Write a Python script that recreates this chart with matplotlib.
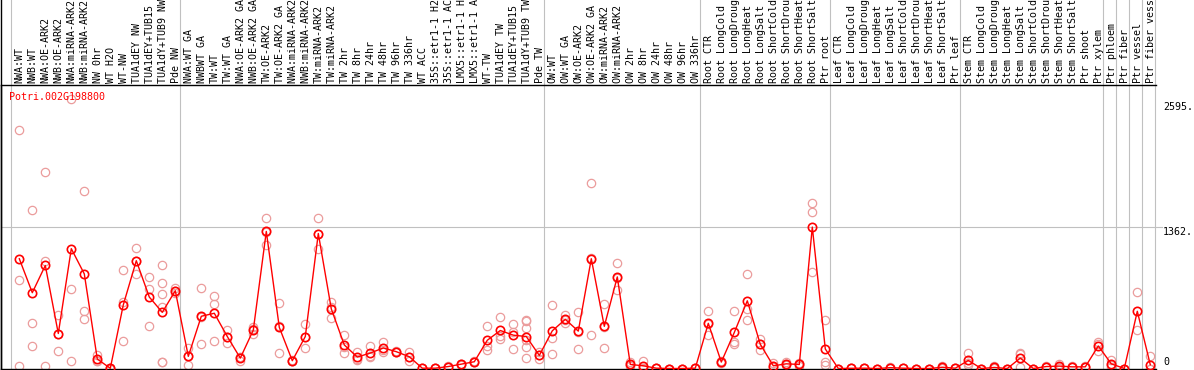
import numpy as np
import matplotlib
matplotlib.use('Agg')
import matplotlib.pyplot as plt
from matplotlib.lines import Line2D
import matplotlib.transforms as mtransforms

################################################################################
# data

gene_id = 'Potri.002G198800'

sample_labels = [
    # NW group
    'NWA:WT', 'NWB:WT', 'NWA:OE-ARK2', 'NWB:OE-ARK2', 'NWA:miRNA-ARK2',
    'NWB:miRNA-ARK2', 'NW 0hr', 'WT H2O', 'WT-NW', 'TUA1dEY NW',
    'TUA1dEY+TUB15 NW', 'TUA1dY+TUB9 NW', 'Pde NW',
    # TW group
    'NWA:WT GA', 'NWBWT GA', 'TW:WT', 'TW:WT GA', 'NWA:OE-ARK2 GA',
    'NWB:OE-ARK2 GA', 'TW:OE-ARK2', 'TW:OE-ARK2 GA', 'NWA:miRNA-ARK2 GA',
    'NWB:miRNA-ARK2 GA', 'TW:miRNA-ARK2', 'TW:miRNA-ARK2 GA', 'TW 2hr',
    'TW 8hr', 'TW 24hr', 'TW 48hr', 'TW 96hr', 'TW 336hr', 'WT ACC',
    '35S::etr1-1 H2O', '35S::etr1-1 ACC', 'LMX5::etr1-1 H2O',
    'LMX5::etr1-1 ACC', 'WT-TW', 'TUA1dEY TW', 'TUA1dEY+TUB15 TW',
    'TUA1dY+TUB9 TW', 'Pde TW',
    # OW group
    'OW:WT', 'OW:WT GA', 'OW:OE-ARK2', 'OW:OE-ARK2 GA', 'OW:miRNA-ARK2',
    'OW:miRNA-ARK2 GA', 'OW 2hr', 'OW 8hr', 'OW 24hr', 'OW 48hr', 'OW 96hr',
    'OW 336hr',
    # root
    'Root CTR', 'Root LongCold', 'Root LongDrought', 'Root LongHeat',
    'Root LongSalt', 'Root ShortCold', 'Root ShortDrought', 'Root ShortHeat',
    'Root ShortSalt', 'Ptr root',
    # leaf
    'Leaf CTR', 'Leaf LongCold', 'Leaf LongDrought', 'Leaf LongHeat',
    'Leaf LongSalt', 'Leaf ShortCold', 'Leaf ShortDrought', 'Leaf ShortHeat',
    'Leaf ShortSalt', 'Ptr leaf',
    # stem
    'Stem CTR', 'Stem LongCold', 'Stem LongDrought', 'Stem LongHeat',
    'Stem LongSalt', 'Stem ShortCold', 'Stem ShortDrought', 'Stem ShortHeat',
    'Stem ShortSalt', 'Ptr shoot', 'Ptr xylem',
    # single tissues
    'Ptr phloem', 'Ptr fiber', 'Ptr vessel', 'Ptr fiber vessel',
]

# last sample index of each group (a separator line follows it)
group_ends = [-1, 12, 40, 52, 62, 72, 83, 84, 85, 86, 87]

mean_expr = [
    1057, 730, 992, 337, 1154, 911, 91, 2, 613, 1038, 688, 541, 749,
    117, 503, 532, 308, 100, 370, 1320, 396, 75, 308, 1300, 574, 227, 110,
    149, 198, 162, 113, 3, 3, 19, 42, 65, 272, 366, 321, 308, 126,
    363, 473, 360, 1057, 406, 882, 39, 26, 3, 0, 0, 3,
    435, 62, 347, 652, 233, 26, 45, 39, 1362, 188,
    0, 2, 3, 0, 8, 3, 0, 0, 12, 3,
    78, 0, 10, 0, 100, 0, 19, 23, 16, 16, 217,
    45, 0, 551, 36,
]

replicates = [
    [2293, 853, 26], [1524, 435, 221], [1894, 1038, 26], [513, 165, 333],
    [2595, 765, 68], [1709, 554, 473], [133, 71, 69], [3, 2, 0],
    [950, 636, 263], [1164, 911, 1039], [882, 765, 406],
    [992, 824, 717, 593, 58, 58], [775, 727, 745],
    [198, 36, 117], [775, 240, 494], [700, 619, 263], [370, 250, 304],
    [110, 75, 115], [396, 337, 377], [1447, 1194, 1319], [629, 153, 406],
    [80, 70, 75], [428, 195, 301], [1447, 1154, 1300], [642, 489, 591],
    [318, 153, 210], [162, 78, 90], [221, 110, 116], [253, 182, 159],
    [170, 155, 160], [156, 71, 112], [5, 2, 2], [3, 2, 4], [19, 15, 23],
    [42, 38, 46], [65, 60, 70], [406, 214, 175], [493, 311, 282],
    [428, 347, 185], [467, 454, 386, 272, 204, 97], [126, 91, 160],
    [613, 298, 143], [516, 435, 468], [548, 185, 347], [1787, 318, 1066],
    [619, 195, 404], [1018, 752, 876], [62, 20, 35], [71, 5, 2], [5, 2, 2],
    [0, 0, 0], [0, 0, 0], [3, 2, 4],
    [554, 327, 424], [70, 55, 60], [551, 256, 240], [911, 571, 467],
    [285, 178, 236], [52, 15, 12], [62, 29, 45], [52, 26, 39],
    [1592, 1505, 931], [467, 36, 61],
    [0, 0, 0], [3, 2, 1], [4, 3, 2], [0, 0, 0], [14, 8, 2], [4, 3, 2],
    [0, 0, 0], [0, 0, 0], [25, 8, 3], [4, 3, 2],
    [146, 36, 52], [0, 0, 0], [20, 5, 5], [0, 0, 0], [146, 19, 135],
    [0, 0, 0], [25, 15, 17], [45, 15, 9], [20, 16, 12], [20, 16, 12],
    [256, 240, 172],
    [85, 36, 14], [0, 0, 0], [736, 370], [117, 0, 0],
]

tick_values = [2595, 1362, 0]
tick_labels = ['2595.', '1362.', '0']

################################################################################

W, H = 1194, 370
MONO = 'DejaVu Sans Mono'
FS = 7.2
GRID = '#c0c0c0'
RED = '#ff0000'
PINK = '#eb9c9c'

fig = plt.figure(figsize=(W/100, H/100), dpi=100)

# plot area in pixels: x 1..1156, y 85..368.5 (from top)
left_px, right_px, top_px, bottom_px = 1, 1156, 85, 368.5
ax = fig.add_axes([left_px/W, (H - bottom_px)/H,
                   (right_px - left_px)/W, (bottom_px - top_px)/H])

x = np.arange(len(mean_expr))
ax.set_xlim((left_px - 19.3)/13, (right_px - 19.3)/13)
ax.set_ylim(0, 2730)

# replicate points
for i, reps in enumerate(replicates):
    ax.plot([i]*len(reps), reps, linestyle='none', marker='o', ms=6,
            mfc='none', mec=PINK, mew=0.9, zorder=2, clip_on=True)

# mean profile
ax.plot(x, mean_expr, color=RED, lw=1.0, marker='o', ms=6, mfc='none',
        mec=RED, mew=1.2, zorder=3)

# group separators, running up through the header
header_frac = H / (bottom_px - top_px)
for k in group_ends:
    ax.axvline(k + 0.385, ymin=0, ymax=header_frac, color=GRID, lw=0.8,
               clip_on=False, zorder=1)

ax.axhline(1362, xmin=0, xmax=(1162 - left_px)/(right_px - left_px),
           color=GRID, lw=0.8, clip_on=False, zorder=1)

for side in ['left', 'bottom', 'top']:
    ax.spines[side].set_color('black')
    ax.spines[side].set_linewidth(1.0)
ax.spines['right'].set_visible(False)
ax.set_xticks([])
ax.set_yticks([])

# left border continues through the header
fig.add_artist(Line2D([left_px/W, left_px/W], [0, 1], color='black', lw=1.0,
                      transform=fig.transFigure))

# sample names in the header
trans_head = mtransforms.blended_transform_factory(ax.transData, ax.transAxes)
for i, label in enumerate(sample_labels):
    ax.text(i + 0.02, 1 + 2/(bottom_px - top_px), label, rotation=90,
            ha='center', va='bottom', fontsize=FS, family=MONO,
            transform=trans_head, clip_on=False)

# gene id
ax.text(8/(right_px - left_px), 1 - 6.5/(bottom_px - top_px), gene_id,
        color=RED, fontsize=FS, family=MONO, ha='left', va='top',
        transform=ax.transAxes)

# value labels on the right
trans_val = mtransforms.blended_transform_factory(ax.transAxes, ax.transData)
for val, lab in zip(tick_values, tick_labels):
    shift = mtransforms.ScaledTranslation(0, -3/100 if val == 2595 else 0,
                                          fig.dpi_scale_trans)
    ax.text((1163 - left_px)/(right_px - left_px), val if val else 10, lab,
            fontsize=FS, family=MONO, ha='left',
            va='top' if val else 'bottom', transform=trans_val + shift,
            clip_on=False)

fig.savefig('out.png', dpi=100)
